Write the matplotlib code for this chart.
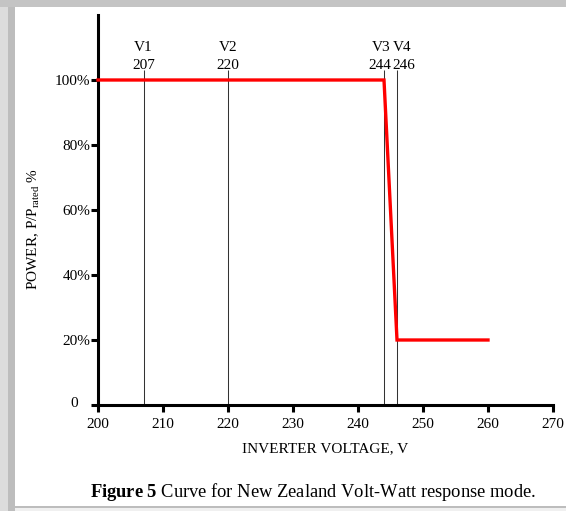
import matplotlib
matplotlib.use("Agg")
import matplotlib.pyplot as plt
from matplotlib.patches import Rectangle
from matplotlib.transforms import ScaledTranslation

# Data
curve_v = [200, 244, 246, 260]
curve_p = [100, 100, 20, 20]
ref_names = ["V1", "V2", "V3", "V4"]
ref_values = [207, 220, 244, 246]
x_ticks = [200, 210, 220, 230, 240, 250, 260, 270]
y_ticks = [0, 20, 40, 60, 80, 100]
y_tick_labels = ["0", "20%", "40%", "60%", "80%", "100%"]

plt.rcParams["font.family"] = ["Liberation Serif", "DejaVu Serif"]
plt.rcParams["mathtext.fontset"] = "custom"
plt.rcParams["mathtext.rm"] = "Liberation Serif"
plt.rcParams["mathtext.it"] = "Liberation Serif:italic"
plt.rcParams["mathtext.bf"] = "Liberation Serif:bold"

W, H = 566, 511
fig = plt.figure(figsize=(W / 100, H / 100), dpi=100)
fig.patch.set_facecolor("white")

# frame / shadow border
fig.patches.append(Rectangle((0, 0), 15 / W, 1, transform=fig.transFigure,
                             facecolor="#dcdcdc", edgecolor="none", zorder=0))
fig.patches.append(Rectangle((8 / W, 0), 7 / W, 1 - 7 / H, transform=fig.transFigure,
                             facecolor="#bdbdbd", edgecolor="none", zorder=0))
fig.patches.append(Rectangle((0, 1 - 7 / H), 1, 7 / H, transform=fig.transFigure,
                             facecolor="#c4c4c4", edgecolor="none", zorder=0))
fig.patches.append(Rectangle((15 / W, 0), 1, 4 / H, transform=fig.transFigure,
                             facecolor="#f0f0f0", edgecolor="none", zorder=0))
fig.patches.append(Rectangle((15 / W, 3 / H), 1, 2 / H, transform=fig.transFigure,
                             facecolor="#bdbdbd", edgecolor="none", zorder=0))

left, right, bottom, top = 98, 553, 405, 15
ax = fig.add_axes([left / W, 1 - bottom / H, (right - left) / W, (bottom - top) / H])
ax.set_xlim(200, 270)
ax.set_ylim(0, 120)
ax.patch.set_alpha(0)

for s in ["top", "right"]:
    ax.spines[s].set_visible(False)
for s in ["left", "bottom"]:
    ax.spines[s].set_linewidth(2.2)

ax.set_xticks(x_ticks)
ax.set_yticks(y_ticks)
ax.set_yticklabels(y_tick_labels)
ax.tick_params(axis="both", direction="out", length=5, width=2.2, labelsize=11,
               colors="black")
ax.tick_params(axis="y", pad=0.5)
ax.tick_params(axis="x", pad=4.5)
# the "0" label sits further left and slightly higher in the original
zero_lbl = ax.get_yticklabels()[0]
zero_lbl.set_transform(zero_lbl.get_transform() +
                       ScaledTranslation(-12 / 100, 3 / 100, fig.dpi_scale_trans))

# reference voltage lines
ax.vlines(ref_values, 0, 103, colors="#333333", linewidth=0.75)
label_align = {"V1": ("center", 0), "V2": ("center", 0), "V3": ("right", 5), "V4": ("left", -3)}
for name, v in zip(ref_names, ref_values):
    ha, dx = label_align[name]
    for txt, yy in ((name, 110), (str(v), 104.6)):
        ax.annotate(txt, (v, yy), xytext=(dx, 0), textcoords="offset points",
                    ha=ha, va="center", fontsize=11)

ax.plot(curve_v, curve_p, color="#ff0000", linewidth=2.4, solid_joinstyle="miter",
        clip_on=False, zorder=3)

ax.set_xlabel("INVERTER VOLTAGE, V", fontsize=11, labelpad=8)
fig.text(34 / W, 1 - 229 / H, r"POWER, P/P$_{\mathrm{rated}}$ %", rotation=90,
         ha="center", va="center", fontsize=11)

fig.text(313 / W, 1 - 492 / H,
         r"$\mathbf{Figure\ 5}$ Curve for New Zealand Volt-Watt response mode.",
         ha="center", va="center", fontsize=13.3)

fig.savefig("out.png", dpi=100)
